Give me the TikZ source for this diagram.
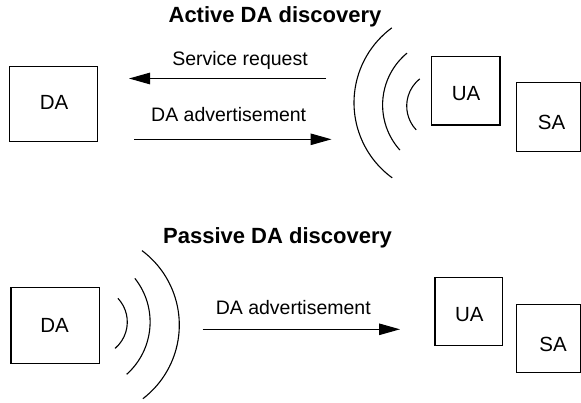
\documentclass[tikz,border=0pt]{standalone}
\usepackage{fontspec}
\setmainfont{Liberation Sans}
\usetikzlibrary{arrows.meta}
\begin{document}
\begin{tikzpicture}[x=1pt,y=-1pt,
  box/.style={draw, line width=1.1pt, inner sep=0pt},
  lbl/.style={font=\fontsize{20.5}{22}\selectfont, inner sep=0pt},
  msg/.style={font=\fontsize{19.5}{21}\selectfont, inner sep=0pt, anchor=base},
  ttl/.style={font=\fontsize{22}{24}\selectfont\bfseries, inner sep=0pt, anchor=base},
  wave/.style={line width=1.1pt},
  arr/.style={line width=1.1pt, -{Triangle[length=21pt,width=11.5pt]}}]
\fill[white] (0,0) rectangle (581,402);
\useasboundingbox (0,0) rectangle (581,402);

% ---------- Active DA discovery ----------
\node[ttl] (t1) at (275,22.7) {Active DA discovery};
\node[box, minimum width=88.4pt, minimum height=75pt] (da1) at (53.5,104.2) {};
\node[lbl] (da1t) at (54,102.5) {DA};
\node[box, minimum width=68.3pt, minimum height=68.3pt] (ua1) at (465.85,90.85) {};
\node[lbl] (ua1t) at (466,93.3) {UA};
\node[box, minimum width=63.9pt, minimum height=69pt] (sa1) at (548.45,117.2) {};
\node[lbl] (sa1t) at (551.5,122.5) {SA};

\node[msg] (sr) at (240,65) {Service request};
\node[msg] (adv1) at (228.7,121) {DA advertisement};
\coordinate (sr1) at (326,78.5);
\coordinate (sr2) at (129,78.5);
\coordinate (ad1) at (134,139.3);
\coordinate (ad2) at (331.5,139.3);
\draw[arr] (sr1) -- (sr2);
\draw[arr] (ad1) -- (ad2);

\draw[wave] ([shift={(447,102.7)}]126.1:93) arc[start angle=126.1, end angle=233.6, radius=93];
\draw[wave] ([shift={(450,105)}]138:67.4) arc[start angle=138, end angle=230.3, radius=67.4];
\draw[wave] ([shift={(441.5,106)}]136.7:34.8) arc[start angle=136.7, end angle=231.3, radius=34.8];

% ---------- Passive DA discovery ----------
\node[ttl] (t2) at (277.5,243.3) {Passive DA discovery};
\node[box, minimum width=88.3pt, minimum height=75.6pt] (da2) at (55.15,325.5) {};
\node[lbl] (da2t) at (54.5,325) {DA};
\node[box, minimum width=67.7pt, minimum height=68pt] (ua2) at (468.85,311.7) {};
\node[lbl] (ua2t) at (469.3,315) {UA};
\node[box, minimum width=63.7pt, minimum height=68pt] (sa2) at (548.55,338.3) {};
\node[lbl] (sa2t) at (553,344.3) {SA};

\node[msg] (adv2) at (293.3,314) {DA advertisement};
\coordinate (pa1) at (202.7,329.3);
\coordinate (pa2) at (400,329.3);
\draw[arr] (pa1) -- (pa2);

\draw[wave] ([shift={(86.5,325)}]-53.3:92.8) arc[start angle=-53.3, end angle=52.6, radius=92.8];
\draw[wave] ([shift={(80,322)}]-38.5:70.1) arc[start angle=-38.5, end angle=48.2, radius=70.1];
\draw[wave] ([shift={(92.7,322)}]-43.2:34.6) arc[start angle=-43.2, end angle=49.9, radius=34.6];
\end{tikzpicture}
\end{document}
